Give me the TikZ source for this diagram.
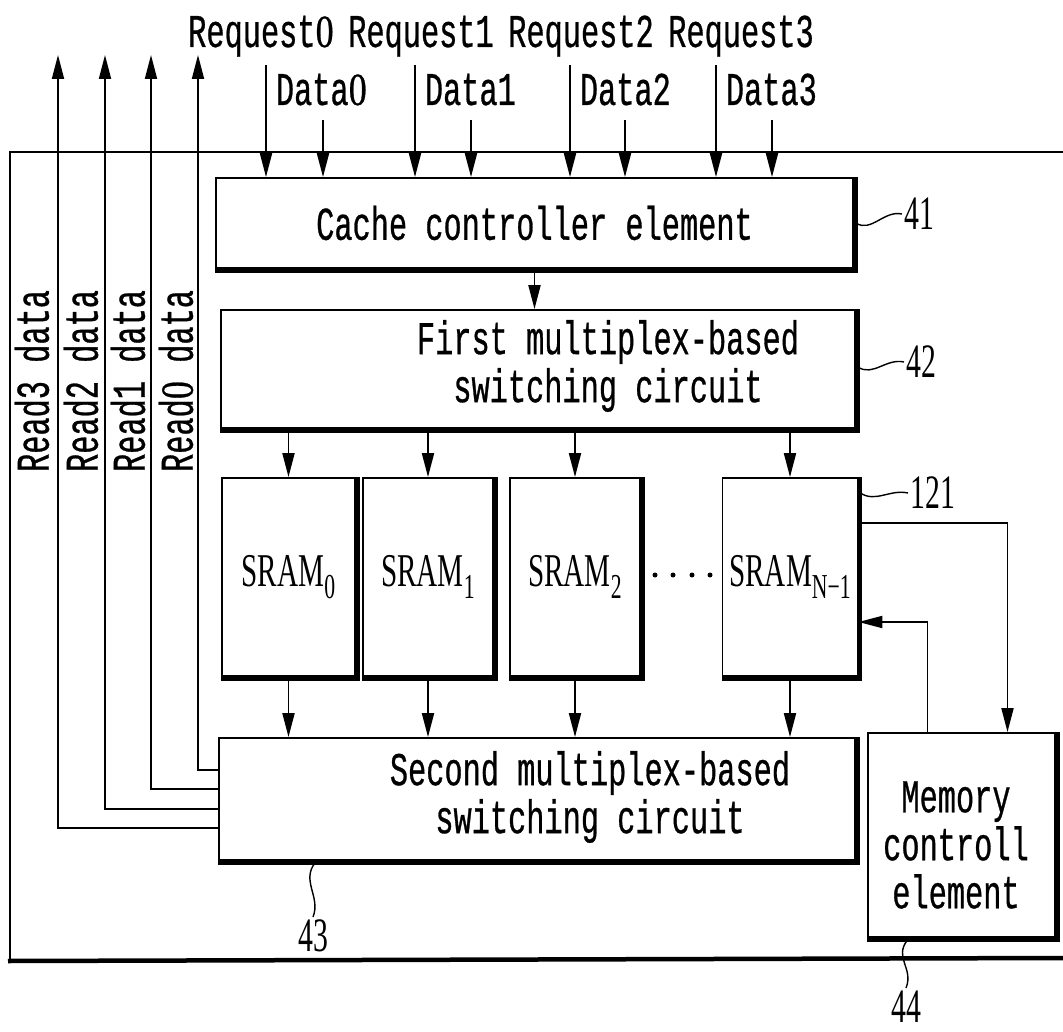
\documentclass[tikz,border=0pt]{standalone}
\usepackage{fontspec}
\setmainfont{Liberation Mono}[FakeStretch=0.645,FakeBold=0.6]
\newfontfamily\numfont{Liberation Serif}[FakeStretch=0.62]
\newfontfamily\zfont{Liberation Serif}[FakeStretch=0.78,FakeBold=0.6]
\usetikzlibrary{arrows.meta}
\newcommand{\sram}[1]{{\numfont\fontsize{47}{47}\selectfont SRAM\raisebox{-12pt}{\fontsize{35}{35}\selectfont #1}}}
\newcommand{\zr}{\makebox[18.2pt]{\zfont\fontsize{46}{46}\selectfont 0}}

\begin{document}
\begin{tikzpicture}[x=1pt,y=-1pt, line width=1.8pt,
  every node/.style={font=\fontsize{47}{48}\selectfont, inner sep=0pt},
  blk/.style={draw, line width=1.8pt},
  lbl/.style={font=\numfont\fontsize{48}{48}\selectfont, inner sep=2pt},
  arr/.style={-{Triangle[length=24pt,width=12pt]}, line width=1.9pt},
  wave/.style={line width=1.4pt}]
  \useasboundingbox (0,0) rectangle (1063,1032);
  \draw (1063,152) -- (10,152) -- (10,961);
  \draw[line width=4.5pt] (8,961) -- (1063,958);
  \node[blk, minimum width=637, minimum height=90] (cache) at (534.5,223) {Cache controller element};
  \node[blk, minimum width=634, minimum height=118] (first) at (538,369) {};
  \node[align=center] (firstt) at (608,366) {First multiplex-based\\switching circuit};
  \node[blk, minimum width=133, minimum height=198] (s0) at (288.5,577) {\sram{0}};
  \node[blk, minimum width=130, minimum height=198] (s1) at (428,577) {\sram{1}};
  \node[blk, minimum width=130, minimum height=198] (s2) at (575,577) {\sram{2}};
  \node[blk, minimum width=135, minimum height=198] (sn) at (790,577) {\sram{N−1}};
  \node[blk, minimum width=636, minimum height=122] (second) at (537,799) {};
  \node[align=center] (secondt) at (590,797) {Second multiplex-based\\switching circuit};
  \node[blk, minimum width=187, minimum height=204] (mem) at (961.5,835) {};
  \node[align=center] (memt) at (956,845) {Memory\\controll\\element};
  \foreach \n in {cache,first,s0,s1,s2,sn,second,mem}
    \draw[line width=4.5pt] ([shift={(1.5,0)}]\n.north east) -- ([shift={(1.5,1.5)}]\n.south east) -- ([shift={(0,1.5)}]\n.south west);
  \foreach \x in {655,673,692,710}
    \fill (\x,575) circle (2.5);
  \foreach \i/\rx/\dx/\d in {0/266/323/\zr,1/415/471/1,2/570/625/2,3/716/772/3} {
    \coordinate (rq\i) at (\rx,65);
    \coordinate (dt\i) at (\dx,120);
    \draw[arr] (rq\i) -- (rq\i |- cache.north);
    \draw[arr] (dt\i) -- (dt\i |- cache.north);
    \node[anchor=base west] (dtt\i) at (\rx+9,105) {Data\d};
    \node[anchor=base] (rqt\i) at (261+160*\i,47) {Request\d};
  }
  \draw[arr] (cache.south) -- (cache.south |- first.north);
  \foreach \s in {s0,s1,s2,sn} {
    \draw[arr] (\s.north |- first.south) -- (\s.north);
    \draw[arr] (\s.south) -- (\s.south |- second.north);
  }
  \foreach \i/\xx/\dy/\lx/\d in {0/198/29/176/\zr,1/151/10/128/1,2/105/-10/81/2,3/58/-29/32/3} {
    \coordinate (rd\i) at (\xx,55);
    \draw[arr] ([yshift=\dy pt]second.west) -| (rd\i);
    \node[rotate=90] (rdt\i) at (\lx,381) {Read\d\ data};
  }
  \draw[arr] ([yshift=54pt]sn.east) -| ([xshift=46pt]mem.north);
  \draw[arr] ([xshift=-34pt]mem.north) |- ([yshift=-45pt]sn.east);
  \node[lbl, anchor=west] (n41) at (902,214) {41};
  \node[lbl, anchor=west] (n42) at (904,362) {42};
  \node[lbl, anchor=west] (n121) at (908,493) {121};
  \node[lbl, anchor=north] (n43) at (313,917) {43};
  \node[lbl, anchor=north] (n44) at (906,988) {44};
  \draw[wave] ([xshift=2pt]cache.east) .. controls +(15,10) and +(-18,-4) .. (n41.west);
  \draw[wave] ([xshift=2pt,yshift=2pt]first.east) .. controls +(15,10) and +(-18,-4) .. (n42.west);
  \draw[wave] ([xshift=2pt,yshift=84pt]sn.east) .. controls +(15,10) and +(-18,-4) .. (n121.west);
  \draw[wave] ([xshift=-222pt,yshift=-2pt]second.south) .. controls +(-14,18) and +(8,-20) .. (n43.north);
  \draw[wave] ([xshift=-54pt,yshift=-2pt]mem.south) .. controls +(-14,18) and +(8,-20) .. (n44.north);
\end{tikzpicture}
\end{document}
